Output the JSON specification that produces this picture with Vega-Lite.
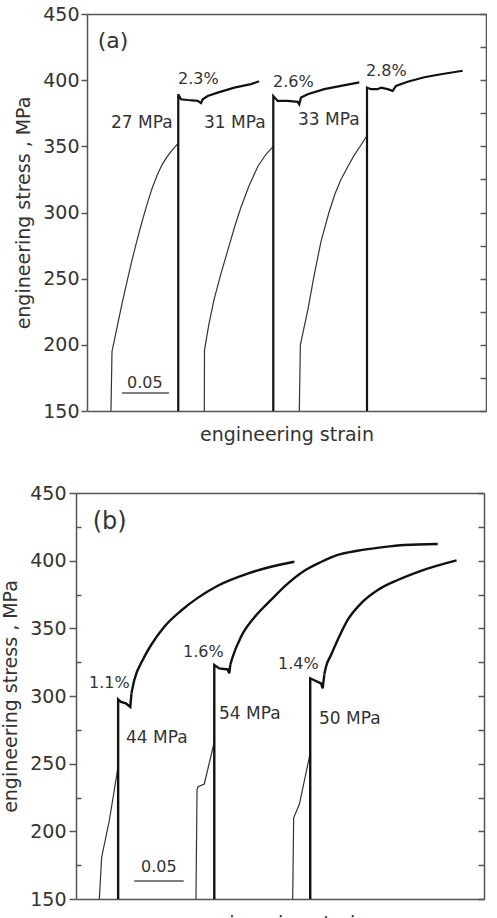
{
  "$schema": "https://vega.github.io/schema/vega-lite/v6.json",
  "background": "white",
  "padding": {"left": 1, "top": 5, "right": 0, "bottom": 0},
  "config": {
    "view": {"stroke": null},
    "font": "DejaVu Sans",
    "axis": {
      "grid": false,
      "domainColor": "#555",
      "domainWidth": 1.5,
      "tickColor": "#555",
      "tickWidth": 1.5,
      "labelFont": "DejaVu Sans",
      "labelFontSize": 19,
      "labelColor": "#333",
      "titleFont": "DejaVu Sans",
      "titleFontSize": 19,
      "titleFontWeight": "normal",
      "titleColor": "#333"
    }
  },
  "datasets": {
    "a_lines": [
      {"seg": "a1", "kind": "load", "strain": 0.0255, "stress": 150},
      {"seg": "a1", "kind": "load", "strain": 0.0266, "stress": 195},
      {"seg": "a1", "kind": "load", "strain": 0.0319, "stress": 213},
      {"seg": "a1", "kind": "load", "strain": 0.0372, "stress": 231},
      {"seg": "a1", "kind": "load", "strain": 0.0426, "stress": 248},
      {"seg": "a1", "kind": "load", "strain": 0.0479, "stress": 264},
      {"seg": "a1", "kind": "load", "strain": 0.0532, "stress": 279},
      {"seg": "a1", "kind": "load", "strain": 0.0585, "stress": 293},
      {"seg": "a1", "kind": "load", "strain": 0.0638, "stress": 306},
      {"seg": "a1", "kind": "load", "strain": 0.0691, "stress": 318},
      {"seg": "a1", "kind": "load", "strain": 0.0745, "stress": 328},
      {"seg": "a1", "kind": "load", "strain": 0.0798, "stress": 336},
      {"seg": "a1", "kind": "load", "strain": 0.0851, "stress": 342},
      {"seg": "a1", "kind": "load", "strain": 0.0904, "stress": 347},
      {"seg": "a1", "kind": "load", "strain": 0.0968, "stress": 352},
      {"seg": "a2", "kind": "flow", "strain": 0.0971, "stress": 150},
      {"seg": "a2", "kind": "flow", "strain": 0.0971, "stress": 389.4},
      {"seg": "a2", "kind": "flow", "strain": 0.1, "stress": 385.6},
      {"seg": "a2", "kind": "flow", "strain": 0.1071, "stress": 385},
      {"seg": "a2", "kind": "flow", "strain": 0.1178, "stress": 384.3},
      {"seg": "a2", "kind": "flow", "strain": 0.1213, "stress": 382.6},
      {"seg": "a2", "kind": "flow", "strain": 0.1231, "stress": 385.6},
      {"seg": "a2", "kind": "flow", "strain": 0.1284, "stress": 388},
      {"seg": "a2", "kind": "flow", "strain": 0.139, "stress": 390.6},
      {"seg": "a2", "kind": "flow", "strain": 0.1567, "stress": 394.4},
      {"seg": "a2", "kind": "flow", "strain": 0.1745, "stress": 397},
      {"seg": "a2", "kind": "flow", "strain": 0.183, "stress": 399.2},
      {"seg": "a3", "kind": "load", "strain": 0.1248, "stress": 150},
      {"seg": "a3", "kind": "load", "strain": 0.125, "stress": 196},
      {"seg": "a3", "kind": "load", "strain": 0.1298, "stress": 216},
      {"seg": "a3", "kind": "load", "strain": 0.1351, "stress": 234},
      {"seg": "a3", "kind": "load", "strain": 0.1426, "stress": 254},
      {"seg": "a3", "kind": "load", "strain": 0.15, "stress": 272},
      {"seg": "a3", "kind": "load", "strain": 0.1574, "stress": 290},
      {"seg": "a3", "kind": "load", "strain": 0.1638, "stress": 304},
      {"seg": "a3", "kind": "load", "strain": 0.1723, "stress": 320},
      {"seg": "a3", "kind": "load", "strain": 0.1819, "stress": 335},
      {"seg": "a3", "kind": "load", "strain": 0.1904, "stress": 344},
      {"seg": "a3", "kind": "load", "strain": 0.1982, "stress": 350},
      {"seg": "a4", "kind": "flow", "strain": 0.1982, "stress": 150},
      {"seg": "a4", "kind": "flow", "strain": 0.1982, "stress": 388},
      {"seg": "a4", "kind": "flow", "strain": 0.2029, "stress": 384.3},
      {"seg": "a4", "kind": "flow", "strain": 0.2135, "stress": 384.3},
      {"seg": "a4", "kind": "flow", "strain": 0.2241, "stress": 383.6},
      {"seg": "a4", "kind": "flow", "strain": 0.2258, "stress": 381.8},
      {"seg": "a4", "kind": "flow", "strain": 0.2277, "stress": 386.9},
      {"seg": "a4", "kind": "flow", "strain": 0.2348, "stress": 389.4},
      {"seg": "a4", "kind": "flow", "strain": 0.2524, "stress": 393.2},
      {"seg": "a4", "kind": "flow", "strain": 0.2702, "stress": 395.7},
      {"seg": "a4", "kind": "flow", "strain": 0.2897, "stress": 398.3},
      {"seg": "a5", "kind": "load", "strain": 0.2259, "stress": 150},
      {"seg": "a5", "kind": "load", "strain": 0.227, "stress": 200},
      {"seg": "a5", "kind": "load", "strain": 0.2309, "stress": 213},
      {"seg": "a5", "kind": "load", "strain": 0.2351, "stress": 227},
      {"seg": "a5", "kind": "load", "strain": 0.2415, "stress": 252},
      {"seg": "a5", "kind": "load", "strain": 0.2489, "stress": 278},
      {"seg": "a5", "kind": "load", "strain": 0.2574, "stress": 300},
      {"seg": "a5", "kind": "load", "strain": 0.2638, "stress": 314},
      {"seg": "a5", "kind": "load", "strain": 0.2702, "stress": 325},
      {"seg": "a5", "kind": "load", "strain": 0.2777, "stress": 335},
      {"seg": "a5", "kind": "load", "strain": 0.284, "stress": 343},
      {"seg": "a5", "kind": "load", "strain": 0.2915, "stress": 351},
      {"seg": "a5", "kind": "load", "strain": 0.2979, "stress": 358},
      {"seg": "a6", "kind": "flow", "strain": 0.2979, "stress": 150},
      {"seg": "a6", "kind": "flow", "strain": 0.2979, "stress": 394.4},
      {"seg": "a6", "kind": "flow", "strain": 0.3021, "stress": 393.2},
      {"seg": "a6", "kind": "flow", "strain": 0.3093, "stress": 393.2},
      {"seg": "a6", "kind": "flow", "strain": 0.3128, "stress": 394.4},
      {"seg": "a6", "kind": "flow", "strain": 0.3199, "stress": 393.2},
      {"seg": "a6", "kind": "flow", "strain": 0.3252, "stress": 391.9},
      {"seg": "a6", "kind": "flow", "strain": 0.3287, "stress": 395.7},
      {"seg": "a6", "kind": "flow", "strain": 0.3411, "stress": 398.8},
      {"seg": "a6", "kind": "flow", "strain": 0.3588, "stress": 402.2},
      {"seg": "a6", "kind": "flow", "strain": 0.3766, "stress": 404.5},
      {"seg": "a6", "kind": "flow", "strain": 0.3997, "stress": 407.1}
    ],
    "b_lines": [
      {"seg": "b1", "kind": "load", "strain": 0.0238, "stress": 150},
      {"seg": "b1", "kind": "load", "strain": 0.0262, "stress": 181},
      {"seg": "b1", "kind": "load", "strain": 0.034, "stress": 208},
      {"seg": "b1", "kind": "load", "strain": 0.043, "stress": 248},
      {"seg": "b2", "kind": "flow", "strain": 0.043, "stress": 150},
      {"seg": "b2", "kind": "flow", "strain": 0.043, "stress": 297.5},
      {"seg": "b2", "kind": "flow", "strain": 0.0459, "stress": 295.7},
      {"seg": "b2", "kind": "flow", "strain": 0.051, "stress": 294.5},
      {"seg": "b2", "kind": "flow", "strain": 0.0554, "stress": 292},
      {"seg": "b2", "kind": "flow", "strain": 0.0566, "stress": 302},
      {"seg": "b2h", "kind": "hard", "strain": 0.0566, "stress": 302},
      {"seg": "b2h", "kind": "hard", "strain": 0.0595, "stress": 311.8},
      {"seg": "b2h", "kind": "hard", "strain": 0.0681, "stress": 326.6},
      {"seg": "b2h", "kind": "hard", "strain": 0.0765, "stress": 337.5},
      {"seg": "b2h", "kind": "hard", "strain": 0.0901, "stress": 351.2},
      {"seg": "b2h", "kind": "hard", "strain": 0.1071, "stress": 363},
      {"seg": "b2h", "kind": "hard", "strain": 0.1242, "stress": 372.5},
      {"seg": "b2h", "kind": "hard", "strain": 0.1446, "stress": 381.5},
      {"seg": "b2h", "kind": "hard", "strain": 0.1752, "stress": 390.5},
      {"seg": "b2h", "kind": "hard", "strain": 0.199, "stress": 395.5},
      {"seg": "b2h", "kind": "hard", "strain": 0.2228, "stress": 399.2},
      {"seg": "b3", "kind": "load", "strain": 0.1224, "stress": 150},
      {"seg": "b3", "kind": "load", "strain": 0.1235, "stress": 231},
      {"seg": "b3", "kind": "load", "strain": 0.1245, "stress": 233},
      {"seg": "b3", "kind": "load", "strain": 0.1309, "stress": 235},
      {"seg": "b3", "kind": "load", "strain": 0.1411, "stress": 266},
      {"seg": "b4", "kind": "flow", "strain": 0.1411, "stress": 150},
      {"seg": "b4", "kind": "flow", "strain": 0.1411, "stress": 322.9},
      {"seg": "b4", "kind": "flow", "strain": 0.1462, "stress": 320.4},
      {"seg": "b4", "kind": "flow", "strain": 0.1548, "stress": 319.6},
      {"seg": "b4", "kind": "flow", "strain": 0.1564, "stress": 316.7},
      {"seg": "b4", "kind": "flow", "strain": 0.1574, "stress": 323},
      {"seg": "b4h", "kind": "hard", "strain": 0.1574, "stress": 323},
      {"seg": "b4h", "kind": "hard", "strain": 0.1599, "stress": 329},
      {"seg": "b4h", "kind": "hard", "strain": 0.1684, "stress": 343.8},
      {"seg": "b4h", "kind": "hard", "strain": 0.1819, "stress": 358},
      {"seg": "b4h", "kind": "hard", "strain": 0.199, "stress": 371},
      {"seg": "b4h", "kind": "hard", "strain": 0.216, "stress": 383},
      {"seg": "b4h", "kind": "hard", "strain": 0.233, "stress": 392.5},
      {"seg": "b4h", "kind": "hard", "strain": 0.25, "stress": 399},
      {"seg": "b4h", "kind": "hard", "strain": 0.267, "stress": 404.2},
      {"seg": "b4h", "kind": "hard", "strain": 0.2874, "stress": 407.3},
      {"seg": "b4h", "kind": "hard", "strain": 0.3112, "stress": 409.8},
      {"seg": "b4h", "kind": "hard", "strain": 0.335, "stress": 411.6},
      {"seg": "b4h", "kind": "hard", "strain": 0.3691, "stress": 412.3},
      {"seg": "b5", "kind": "load", "strain": 0.2211, "stress": 150},
      {"seg": "b5", "kind": "load", "strain": 0.2221, "stress": 210},
      {"seg": "b5", "kind": "load", "strain": 0.2279, "stress": 220},
      {"seg": "b5", "kind": "load", "strain": 0.239, "stress": 258},
      {"seg": "b6", "kind": "flow", "strain": 0.239, "stress": 150},
      {"seg": "b6", "kind": "flow", "strain": 0.239, "stress": 313},
      {"seg": "b6", "kind": "flow", "strain": 0.2415, "stress": 312.2},
      {"seg": "b6", "kind": "flow", "strain": 0.2466, "stress": 310.5},
      {"seg": "b6", "kind": "flow", "strain": 0.25, "stress": 309.3},
      {"seg": "b6", "kind": "flow", "strain": 0.2517, "stress": 305.6},
      {"seg": "b6", "kind": "flow", "strain": 0.2534, "stress": 316},
      {"seg": "b6h", "kind": "hard", "strain": 0.2534, "stress": 316},
      {"seg": "b6h", "kind": "hard", "strain": 0.2551, "stress": 321.6},
      {"seg": "b6h", "kind": "hard", "strain": 0.2602, "stress": 330.3},
      {"seg": "b6h", "kind": "hard", "strain": 0.267, "stress": 341.4},
      {"seg": "b6h", "kind": "hard", "strain": 0.2772, "stress": 356.2},
      {"seg": "b6h", "kind": "hard", "strain": 0.2908, "stress": 368.4},
      {"seg": "b6h", "kind": "hard", "strain": 0.3079, "stress": 378.3},
      {"seg": "b6h", "kind": "hard", "strain": 0.3283, "stress": 385.7},
      {"seg": "b6h", "kind": "hard", "strain": 0.352, "stress": 392.5},
      {"seg": "b6h", "kind": "hard", "strain": 0.3883, "stress": 400.2}
    ],
    "a_text": [
      {"label": "(a)", "role": "panelA", "strain": 0.0114, "stress": 429.5},
      {"label": "2.3%", "role": "pct", "strain": 0.0968, "stress": 400.8},
      {"label": "27 MPa", "role": "mpa", "strain": 0.0255, "stress": 367.4},
      {"label": "31 MPa", "role": "mpa", "strain": 0.1245, "stress": 367.4},
      {"label": "2.6%", "role": "pct", "strain": 0.1979, "stress": 398.5},
      {"label": "33 MPa", "role": "mpa", "strain": 0.2245, "stress": 369.7},
      {"label": "2.8%", "role": "pct", "strain": 0.2968, "stress": 406.8},
      {"label": "0.05", "role": "bar", "strain": 0.0426, "stress": 171.2}
    ],
    "b_text": [
      {"label": "(b)", "role": "panelB", "strain": 0.017, "stress": 428.6},
      {"label": "1.1%", "role": "pct", "strain": 0.0133, "stress": 309.6},
      {"label": "1.6%", "role": "pct", "strain": 0.1092, "stress": 332.5},
      {"label": "1.4%", "role": "pct", "strain": 0.2061, "stress": 323.6},
      {"label": "44 MPa", "role": "mpa", "strain": 0.051, "stress": 269},
      {"label": "54 MPa", "role": "mpa", "strain": 0.1459, "stress": 286.7},
      {"label": "50 MPa", "role": "mpa", "strain": 0.248, "stress": 283},
      {"label": "0.05", "role": "bar", "strain": 0.0663, "stress": 173.6}
    ],
    "a_bar": [{"from": 0.0372, "to": 0.0872, "stress": 163.6}],
    "b_bar": [{"from": 0.0595, "to": 0.1099, "stress": 163.3}]
  },
  "columns": 1,
  "align": "all",
  "spacing": 30,
  "resolve": {"scale": {"x": "independent", "y": "independent"}},
  "concat": [
    {
      "width": 410,
      "height": 397,
      "resolve": {"axis": {"x": "independent", "y": "independent"}},
      "layer": [
        {
          "data": {"name": "a_lines"},
          "transform": [{"filter": "datum.kind === 'load'"}],
          "mark": {"type": "line", "color": "#333", "strokeWidth": 1.2},
          "encoding": {
            "x": {"field": "strain", "type": "quantitative",
                  "scale": {"domain": [0, 0.4245], "range": [11, 410], "nice": false, "zero": false},
                  "axis": {"orient": "bottom", "title": "engineering strain", "labels": false, "ticks": false, "titlePadding": 14}},
            "y": {"field": "stress", "type": "quantitative",
                  "scale": {"domain": [150, 450], "nice": false, "zero": false},
                  "axis": {"orient": "left", "title": "engineering stress , MPa", "values": [150, 200, 250, 300, 350, 400, 450], "tickSize": 6, "labelPadding": 2, "offset": -11, "titlePadding": 9}},
            "detail": {"field": "seg"},
            "order": {"value": null}
          }
        },
        {
          "data": {"name": "a_lines"},
          "transform": [{"filter": "datum.kind === 'flow'"}],
          "mark": {"type": "line", "color": "#111", "strokeWidth": 2.2},
          "encoding": {
            "x": {"field": "strain", "type": "quantitative",
                  "axis": {"orient": "top", "title": null, "labels": false, "ticks": false}},
            "y": {"field": "stress", "type": "quantitative",
                  "axis": {"orient": "right", "title": null, "labels": false, "values": [150, 175, 200, 225, 250, 275, 300, 325, 350, 375, 400, 425, 450], "tickSize": -6}},
            "detail": {"field": "seg"},
            "order": {"value": null}
          }
        },
        {
          "data": {"name": "a_bar"},
          "mark": {"type": "rule", "color": "#555", "strokeWidth": 1.5},
          "encoding": {
            "x": {"field": "from", "type": "quantitative", "axis": null},
            "x2": {"field": "to"},
            "y": {"field": "stress", "type": "quantitative", "axis": null}
          }
        },
        {
          "data": {"name": "a_text"},
          "mark": {"type": "text", "align": "left", "baseline": "middle", "font": "DejaVu Sans", "color": "#333"},
          "encoding": {
            "x": {"field": "strain", "type": "quantitative", "axis": null},
            "y": {"field": "stress", "type": "quantitative", "axis": null},
            "text": {"field": "label"},
            "size": {
              "condition": [
                {"test": "datum.role === 'panelA'", "value": 22},
                {"test": "datum.role === 'mpa'", "value": 17}
              ],
              "value": 16
            }
          }
        }
      ]
    },
    {
      "width": 408,
      "height": 406,
      "resolve": {"axis": {"x": "independent", "y": "independent"}},
      "layer": [
        {
          "data": {"name": "b_lines"},
          "transform": [{"filter": "datum.kind === 'load'"}],
          "mark": {"type": "line", "color": "#333", "strokeWidth": 1.2},
          "encoding": {
            "x": {"field": "strain", "type": "quantitative",
                  "scale": {"domain": [0, 0.4163], "nice": false, "zero": false},
                  "axis": {"orient": "bottom", "title": "engineering strain", "labels": false, "ticks": false, "titlePadding": 15}},
            "y": {"field": "stress", "type": "quantitative",
                  "scale": {"domain": [150, 450], "nice": false, "zero": false},
                  "axis": {"orient": "left", "title": "engineering stress , MPa", "values": [150, 200, 250, 300, 350, 400, 450], "tickSize": 7, "labelPadding": 3, "titlePadding": 9}},
            "detail": {"field": "seg"},
            "order": {"value": null}
          }
        },
        {
          "data": {"name": "b_lines"},
          "transform": [{"filter": "datum.kind === 'flow'"}],
          "mark": {"type": "line", "color": "#111", "strokeWidth": 2.4},
          "encoding": {
            "x": {"field": "strain", "type": "quantitative",
                  "axis": {"orient": "top", "title": null, "labels": false, "ticks": false}},
            "y": {"field": "stress", "type": "quantitative",
                  "axis": {"orient": "right", "title": null, "labels": false, "values": [150, 175, 200, 225, 250, 275, 300, 325, 350, 375, 400, 425, 450], "tickSize": -6}},
            "detail": {"field": "seg"},
            "order": {"value": null}
          }
        },
        {
          "data": {"name": "b_lines"},
          "transform": [{"filter": "datum.kind === 'hard'"}],
          "mark": {"type": "line", "color": "#111", "strokeWidth": 2.4, "interpolate": "monotone"},
          "encoding": {
            "x": {"field": "strain", "type": "quantitative", "axis": null},
            "y": {"field": "stress", "type": "quantitative", "axis": null},
            "detail": {"field": "seg"}
          }
        },
        {
          "data": {"name": "b_bar"},
          "mark": {"type": "rule", "color": "#555", "strokeWidth": 1.5},
          "encoding": {
            "x": {"field": "from", "type": "quantitative", "axis": null},
            "x2": {"field": "to"},
            "y": {"field": "stress", "type": "quantitative", "axis": null}
          }
        },
        {
          "data": {"name": "b_text"},
          "mark": {"type": "text", "align": "left", "baseline": "middle", "font": "DejaVu Sans", "color": "#333"},
          "encoding": {
            "x": {"field": "strain", "type": "quantitative", "axis": null},
            "y": {"field": "stress", "type": "quantitative",
                  "axis": {"orient": "left", "title": null, "labels": false, "domain": false, "values": [175, 225, 275, 325, 375, 425], "tickSize": -5}},
            "text": {"field": "label"},
            "size": {
              "condition": [
                {"test": "datum.role === 'panelB'", "value": 24},
                {"test": "datum.role === 'mpa'", "value": 17}
              ],
              "value": 16
            }
          }
        }
      ]
    }
  ]
}
